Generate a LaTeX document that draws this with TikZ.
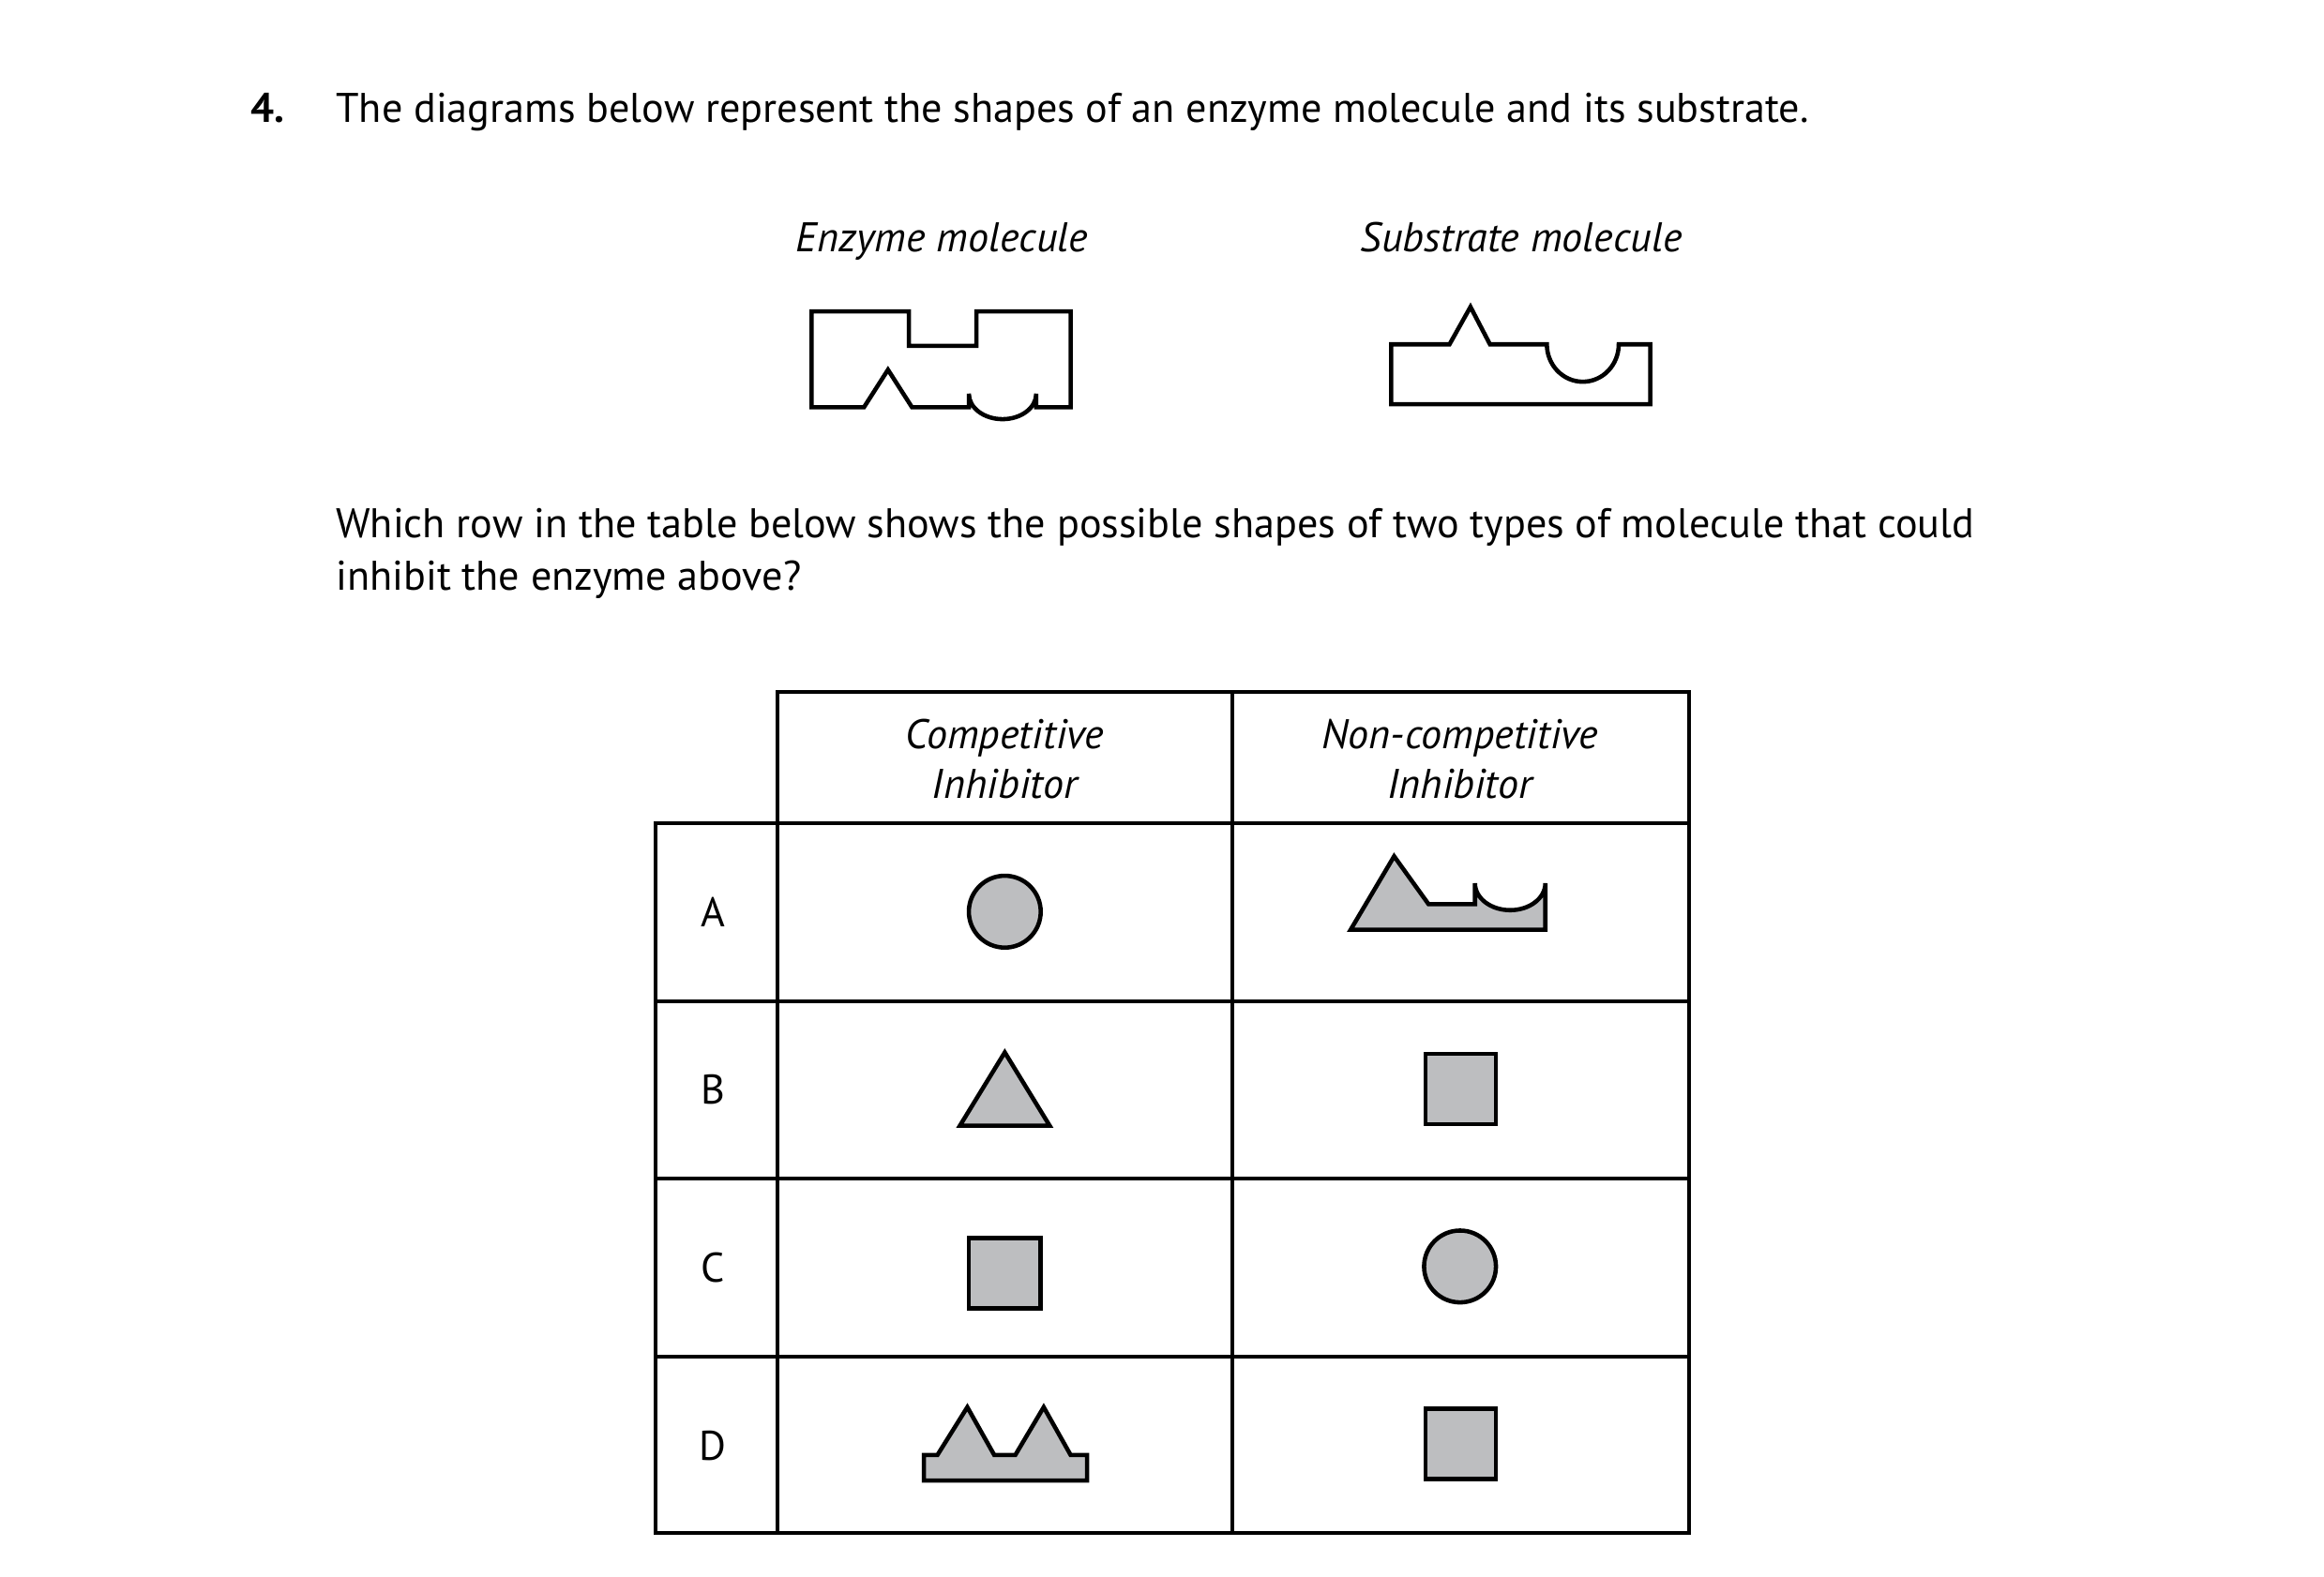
\documentclass[tikz,border=0pt]{standalone}
\usepackage{fontspec}
\setmainfont{PT Sans}
\definecolor{molgray}{HTML}{BDBEC0}
\tikzset{
  txt/.style={font=\fontsize{12.6}{15}\selectfont, inner sep=0pt},
  head/.style={font=\fontsize{12.6}{15}\selectfont\itshape, align=center, inner sep=0pt},
  outline/.style={draw, line width=1.3pt},
  mol/.style={draw, line width=1.3pt, fill=molgray},
  grid/.style={line width=1.1pt}
}
\begin{document}
\begin{tikzpicture}[x=0.016cm, y=-0.016cm]
\useasboundingbox (0,0) rectangle (1552,1053);

% question
\node[txt, font=\fontsize{12.6}{15}\selectfont\bfseries, anchor=base west] (num) at (167,82) {4.};
\node[txt, anchor=base west] (q1) at (224,82) {The diagrams below represent the shapes of an enzyme molecule and its substrate.};

% labels
\node[head, anchor=base] (enzlab) at (629,168) {Enzyme molecule};
\node[head, anchor=base] (sublab) at (1016,168) {Substrate molecule};

% enzyme
\draw[outline] (542,272) -- (542,208) -- (607,208) -- (607,231) -- (652,231) -- (652,208)
  -- (715,208) -- (715,272) -- (692,272) -- (692,263)
  arc[start angle=0, end angle=180, x radius=22.5, y radius=17] -- (647,272)
  -- (609,272) -- (593,247) -- (577,272) -- cycle;

% substrate
\draw[outline] (929,270) -- (929,230) -- (968,230) -- (982,205) -- (995,230) -- (1033,230)
  arc[start angle=180, end angle=0, x radius=24, y radius=25] -- (1102,230)
  -- (1102,270) -- cycle;

% second question
\node[txt, anchor=base west] (q2) at (224,359) {Which row in the table below shows the possible shapes of two types of molecule that could};
\node[txt, anchor=base west] (q3) at (224,394) {inhibit the enzyme above?};

% table
\draw[grid] (519,462) rectangle (1128,1024);
\draw[grid] (438,550) rectangle (519,1024);
\draw[grid] (823,462) -- (823,1024);
\foreach \y in {550,669,787,906} \draw[grid] (438,\y) -- (1128,\y);

\node[head] (comp) at (671,507) {Competitive\\Inhibitor};
\node[head] (noncomp) at (975,507) {Non-competitive\\Inhibitor};
\foreach \l/\y in {A/609,B/728,C/847,D/966}
  \node[txt] (row\l) at (476,\y) {\l};

% row A
\draw[mol] (671,609) circle[radius=24];
\draw[mol] (902,621) -- (931,572) -- (954,604) -- (985,604) -- (985,590)
  arc[start angle=180, end angle=0, x radius=23.5, y radius=18] -- (1032,621) -- cycle;
% row B
\draw[mol] (641,752) -- (671,703) -- (701,752) -- cycle;
\draw[mol] (952,704) rectangle (999,751);
% row C
\draw[mol] (647,827) rectangle (695,874);
\draw[mol] (975,846) circle[radius=24];
% row D
\draw[mol] (617,989) -- (617,972) -- (626,972) -- (646,940) -- (664,972) -- (678,972)
  -- (697,940) -- (715,972) -- (726,972) -- (726,989) -- cycle;
\draw[mol] (952,941) rectangle (999,988);

\end{tikzpicture}
\end{document}
